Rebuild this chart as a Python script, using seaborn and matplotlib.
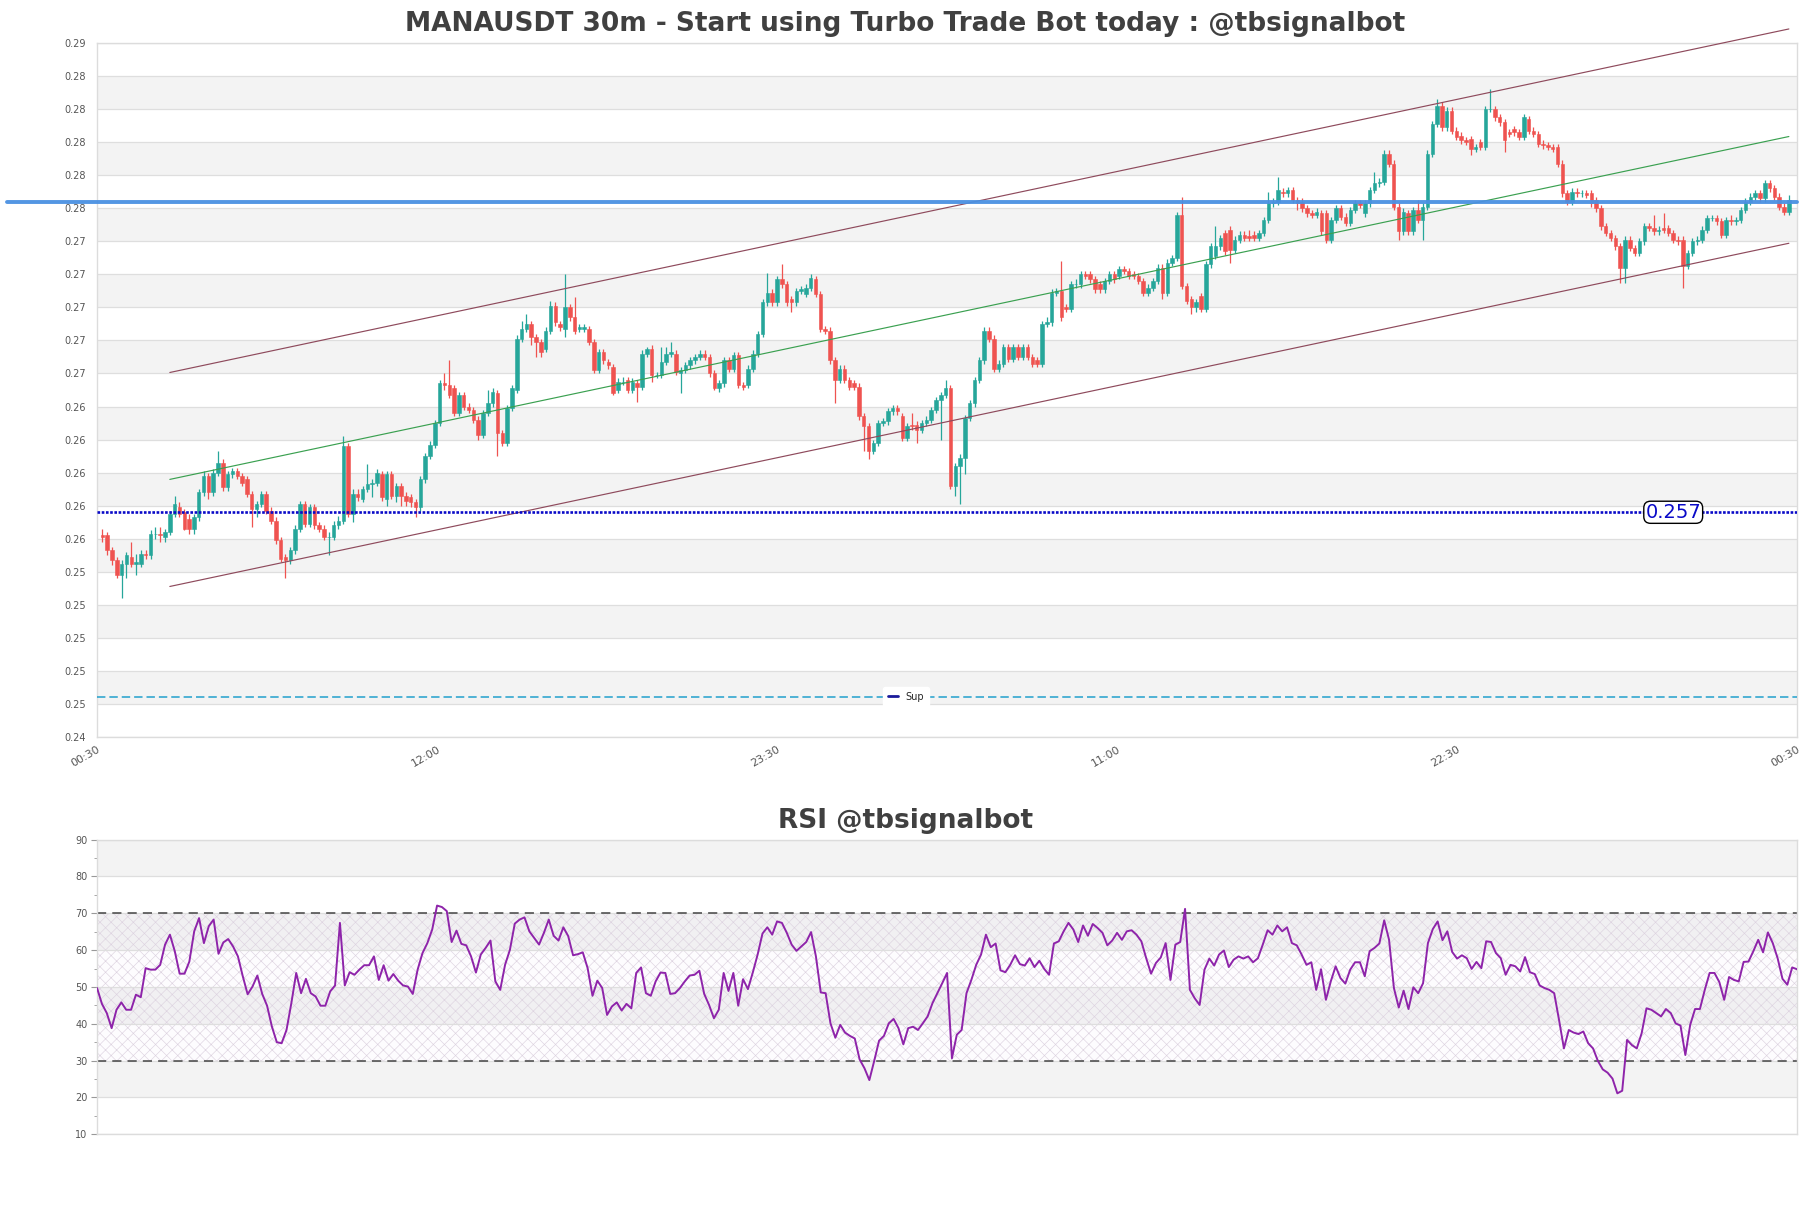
import numpy as np
import pandas as pd
import matplotlib
matplotlib.use("Agg")
import matplotlib.pyplot as plt
from matplotlib.lines import Line2D
from matplotlib.ticker import MultipleLocator, FormatStrFormatter, NullLocator
import seaborn as sns

TITLE = "MANAUSDT 30m - Start using Turbo Trade Bot today : @tbsignalbot"
RSI_TITLE = "RSI @tbsignalbot"
x_labels = ["00:30", "12:00", "23:30", "11:00", "22:30", "00:30"]

# OHLC prices in units of 0.0001
opens = [
2562,2562,2553,2547,2538,2545,2549,2545,2545,2551,
2550,2563,2563,2561,2564,2575,2579,2576,2572,2566,
2573,2588,2598,2588,2600,2606,2591,2599,2601,2598,
2596,2587,2578,2581,2587,2577,2571,2559,2549,2547,
2553,2566,2581,2569,2579,2568,2566,2561,2561,2568,
2571,2616,2575,2587,2584,2590,2593,2594,2599,2584,
2599,2586,2592,2586,2585,2582,2579,2596,2610,2617,
2630,2654,2653,2651,2636,2647,2640,2638,2632,2623,
2636,2642,2648,2624,2618,2639,2650,2681,2687,2690,
2682,2679,2675,2686,2701,2690,2687,2700,2694,2687,
2687,2687,2679,2662,2673,2667,2664,2650,2655,2656,
2650,2654,2652,2672,2675,2659,2659,2667,2672,2672,
2660,2662,2665,2668,2670,2672,2670,2660,2651,2654,
2668,2663,2671,2653,2653,2663,2672,2684,2703,2709,
2703,2717,2714,2705,2703,2710,2708,2712,2717,2708,
2687,2686,2668,2656,2663,2656,2654,2652,2634,2628,
2613,2618,2630,2631,2637,2639,2634,2621,2629,2629,
2626,2630,2632,2638,2644,2647,2651,2592,2604,2609,
2633,2642,2656,2668,2686,2681,2663,2666,2676,2669,
2676,2670,2676,2670,2668,2666,2690,2691,2709,2710,
2700,2699,2714,2714,2720,2720,2717,2714,2711,2716,
2720,2719,2723,2722,2720,2719,2716,2709,2712,2716,
2724,2709,2727,2730,2756,2713,2705,2700,2707,2699,
2726,2731,2737,2745,2747,2735,2741,2744,2743,2744,
2742,2745,2753,2763,2764,2770,2769,2771,2765,2764,
2760,2757,2756,2757,2757,2741,2753,2760,2755,2751,
2759,2763,2757,2763,2771,2775,2776,2793,2787,2761,
2746,2757,2746,2759,2753,2761,2793,2811,2822,2809,
2819,2807,2804,2801,2802,2796,2800,2797,2820,2820,
2815,2812,2806,2808,2806,2803,2814,2807,2805,2799,
2798,2797,2797,2787,2769,2764,2770,2769,2769,2769,
2765,2760,2749,2745,2742,2737,2724,2741,2736,2733,
2740,2749,2748,2746,2748,2748,2745,2741,2741,2725,
2733,2740,2741,2747,2754,2754,2752,2744,2753,2752,
2753,2759,2764,2767,2769,2766,2775,2772,2767,2761,
2758]

highs = [
2566,2564,2555,2549,2547,2552,2558,2551,2553,2553,
2565,2567,2567,2566,2577,2586,2582,2578,2575,2575,
2590,2601,2600,2602,2613,2608,2601,2603,2603,2600,
2598,2589,2583,2589,2589,2579,2573,2561,2551,2555,
2568,2583,2583,2581,2581,2570,2568,2564,2571,2574,
2622,2618,2590,2590,2592,2605,2596,2602,2601,2601,
2601,2594,2594,2588,2587,2584,2598,2612,2619,2632,
2656,2660,2668,2653,2649,2649,2642,2640,2634,2638,
2650,2651,2650,2626,2641,2653,2683,2692,2696,2692,
2684,2681,2688,2704,2703,2692,2720,2702,2706,2690,
2690,2689,2681,2675,2675,2669,2666,2657,2658,2658,
2657,2656,2674,2676,2677,2661,2676,2676,2679,2674,
2664,2667,2670,2672,2674,2674,2672,2662,2656,2670,
2670,2673,2673,2655,2665,2674,2686,2705,2721,2711,
2719,2726,2716,2707,2712,2713,2714,2720,2719,2710,
2689,2688,2670,2665,2665,2658,2656,2654,2636,2630,
2620,2632,2633,2639,2641,2641,2636,2630,2636,2631,
2632,2634,2640,2646,2649,2656,2653,2606,2611,2635,
2644,2658,2670,2688,2688,2683,2668,2678,2678,2678,
2678,2678,2678,2672,2670,2692,2694,2711,2712,2728,
2702,2716,2717,2722,2722,2722,2719,2716,2718,2722,
2722,2725,2725,2724,2722,2721,2718,2714,2718,2726,
2726,2729,2732,2758,2767,2715,2707,2705,2709,2728,
2739,2749,2744,2747,2749,2743,2746,2746,2747,2746,
2747,2755,2770,2766,2779,2772,2773,2773,2767,2766,
2762,2759,2760,2759,2759,2755,2762,2762,2757,2761,
2765,2765,2765,2773,2782,2778,2795,2795,2789,2763,
2760,2759,2761,2765,2763,2795,2813,2826,2824,2821,
2821,2809,2806,2803,2804,2799,2802,2822,2832,2822,
2817,2814,2808,2810,2808,2817,2816,2809,2807,2801,
2800,2799,2799,2789,2771,2772,2772,2771,2771,2771,
2767,2762,2751,2747,2744,2739,2743,2743,2738,2742,
2751,2751,2756,2749,2757,2750,2747,2743,2743,2735,
2742,2743,2749,2756,2756,2756,2754,2755,2756,2755,
2761,2766,2769,2771,2771,2777,2777,2774,2769,2763,
2768]

lows = [
2558,2550,2544,2536,2524,2536,2543,2538,2543,2548,
2548,2560,2558,2558,2562,2573,2573,2565,2563,2563,
2571,2586,2584,2586,2598,2589,2589,2597,2596,2592,
2585,2567,2573,2579,2575,2569,2557,2546,2536,2545,
2551,2564,2567,2567,2566,2564,2559,2550,2559,2566,
2569,2573,2570,2583,2582,2588,2585,2592,2583,2580,
2584,2582,2580,2580,2579,2573,2577,2594,2608,2615,
2628,2650,2645,2634,2634,2638,2636,2630,2620,2621,
2634,2640,2610,2616,2616,2637,2648,2679,2685,2677,
2670,2670,2673,2684,2689,2686,2682,2692,2684,2685,
2685,2677,2660,2660,2666,2663,2647,2648,2653,2648,
2648,2643,2650,2670,2655,2657,2657,2665,2670,2659,
2648,2660,2663,2666,2668,2668,2658,2650,2649,2652,
2661,2661,2651,2650,2651,2661,2670,2682,2701,2701,
2701,2712,2701,2697,2701,2708,2706,2710,2706,2685,
2684,2666,2642,2654,2654,2650,2650,2632,2613,2608,
2611,2616,2628,2629,2635,2635,2619,2619,2626,2618,
2624,2628,2630,2636,2620,2645,2590,2586,2581,2599,
2631,2640,2654,2666,2679,2661,2661,2664,2667,2667,
2668,2668,2668,2664,2664,2664,2688,2689,2707,2692,
2697,2697,2712,2712,2717,2715,2709,2709,2709,2714,
2715,2717,2720,2717,2717,2714,2707,2707,2710,2714,
2705,2707,2725,2728,2711,2702,2696,2697,2697,2697,
2724,2729,2735,2732,2727,2733,2739,2740,2740,2740,
2740,2743,2751,2761,2762,2767,2767,2763,2759,2758,
2755,2754,2754,2744,2739,2739,2751,2753,2749,2749,
2757,2760,2755,2761,2769,2773,2774,2785,2759,2741,
2744,2744,2744,2751,2741,2759,2791,2809,2807,2807,
2805,2801,2799,2798,2792,2794,2795,2795,2818,2813,
2810,2794,2803,2804,2801,2801,2805,2803,2797,2796,
2795,2794,2785,2767,2762,2762,2767,2767,2766,2761,
2758,2747,2743,2740,2735,2715,2715,2734,2731,2731,
2738,2746,2744,2744,2745,2743,2739,2738,2712,2723,
2731,2738,2739,2745,2752,2750,2742,2742,2750,2750,
2751,2757,2762,2765,2764,2764,2770,2765,2759,2756,
2756]

closes = [
2561,2553,2547,2538,2545,2550,2545,2546,2551,2550,
2563,2563,2562,2564,2575,2581,2575,2566,2566,2573,
2588,2598,2588,2600,2606,2591,2599,2601,2598,2594,
2587,2578,2581,2587,2577,2571,2559,2548,2547,2553,
2566,2581,2569,2579,2568,2566,2561,2561,2568,2571,
2616,2575,2587,2585,2590,2593,2594,2600,2585,2599,
2586,2592,2586,2583,2582,2579,2596,2610,2617,2630,
2654,2653,2647,2636,2647,2640,2638,2632,2623,2636,
2642,2649,2624,2618,2639,2651,2681,2687,2690,2682,
2679,2673,2686,2701,2691,2688,2700,2694,2686,2688,
2688,2679,2662,2673,2668,2665,2648,2655,2655,2650,
2655,2652,2672,2675,2659,2659,2667,2672,2673,2661,
2662,2665,2668,2670,2672,2670,2660,2651,2654,2668,
2663,2671,2653,2652,2663,2672,2684,2703,2709,2703,
2717,2714,2703,2703,2710,2711,2712,2718,2708,2687,
2686,2668,2656,2663,2656,2652,2652,2634,2628,2613,
2618,2630,2631,2637,2639,2637,2621,2628,2628,2626,
2630,2632,2638,2644,2647,2651,2592,2604,2609,2633,
2642,2656,2668,2686,2681,2663,2666,2676,2669,2676,
2670,2676,2670,2666,2666,2690,2691,2709,2710,2694,
2699,2714,2714,2720,2719,2717,2711,2711,2716,2720,
2717,2723,2722,2719,2719,2716,2709,2712,2716,2724,
2709,2727,2730,2756,2713,2704,2700,2703,2699,2726,
2737,2737,2742,2734,2735,2741,2744,2742,2742,2742,
2745,2753,2763,2764,2771,2769,2771,2765,2763,2760,
2757,2756,2758,2746,2741,2753,2760,2755,2751,2759,
2763,2762,2763,2771,2775,2776,2793,2787,2761,2746,
2758,2746,2759,2753,2761,2793,2811,2822,2809,2819,
2807,2803,2801,2800,2796,2797,2797,2820,2820,2815,
2812,2801,2805,2806,2803,2815,2807,2805,2799,2798,
2797,2796,2787,2769,2764,2770,2769,2769,2768,2763,
2760,2749,2745,2742,2737,2724,2741,2736,2733,2740,
2749,2748,2746,2747,2747,2745,2741,2740,2725,2733,
2740,2741,2747,2754,2754,2752,2744,2753,2752,2753,
2759,2764,2767,2769,2766,2775,2772,2767,2761,2758,
2765]

rsi = [
49.7,45.4,42.9,38.8,43.8,45.8,43.8,43.8,47.9,47.2,
55.1,54.7,54.7,56.0,61.5,64.2,59.7,53.6,53.6,56.9,
65.1,68.7,61.9,66.5,68.3,59.0,62.1,63.0,61.0,58.3,
52.9,48.0,50.1,53.1,48.1,44.9,39.2,35.0,34.7,38.3,
45.6,53.8,48.3,52.2,48.3,47.4,44.9,44.9,48.8,50.4,
67.4,50.4,54.0,53.3,54.7,55.9,55.9,58.3,51.9,55.9,
51.7,53.5,51.7,50.4,50.1,48.1,54.7,59.2,61.9,65.6,
72.1,71.7,70.6,62.2,65.3,61.7,61.3,58.3,53.9,58.8,
60.6,62.6,51.5,49.2,56.0,60.1,67.2,68.3,68.9,65.1,
63.3,61.5,64.7,68.3,63.9,62.6,66.2,63.8,58.6,58.9,
59.4,55.1,47.6,51.7,49.7,
42.4,44.7,45.8,43.6,45.4,44.2,53.8,55.3,48.3,47.6,
51.5,53.9,53.8,48.1,48.3,49.7,51.5,53.1,53.3,54.4,
48.1,45.1,41.5,43.8,53.8,48.9,53.8,44.9,52.1,49.4,
53.9,58.8,64.5,66.2,64.2,67.8,67.4,64.7,61.5,59.8,
61.0,62.2,64.9,58.3,48.5,48.3,40.1,36.2,39.7,37.6,
36.7,36.0,30.3,27.9,24.7,29.9,35.4,36.7,40.1,41.3,
38.8,34.4,38.8,39.2,38.3,40.1,42.0,45.6,48.3,51.0,
53.8,30.6,37.0,38.3,48.3,51.9,56.0,58.8,64.2,60.8,
61.8,54.5,54.0,56.0,58.6,56.2,55.8,57.8,55.4,57.1,
54.9,53.3,61.8,62.4,65.1,67.4,65.6,62.2,66.7,63.9,
67.1,66.0,64.7,61.3,62.6,64.7,62.8,65.1,65.4,64.2,
62.4,57.8,53.6,56.5,58.0,61.9,51.9,61.5,62.2,71.2,
49.2,46.9,
45.1,54.7,57.7,55.8,58.8,59.9,55.4,57.4,58.3,57.7,
58.3,56.7,57.8,61.5,65.4,64.2,66.7,65.1,66.2,61.9,
61.3,58.8,56.0,56.7,49.2,54.8,46.5,51.5,55.6,52.4,
50.9,54.7,56.7,56.7,52.9,59.7,60.6,61.8,68.1,62.8,
49.7,44.4,49.0,44.0,49.9,48.3,51.0,61.9,65.7,67.8,
62.7,65.1,59.5,57.7,58.6,57.8,54.9,56.8,55.1,62.4,
62.2,59.2,57.8,53.3,56.0,55.6,54.2,58.1,54.0,53.5,
50.4,49.7,49.2,48.3,41.0,33.3,38.3,37.6,37.2,37.9,
34.7,33.3,29.9,27.6,26.7,25.1,21.1,21.8,35.6,34.2,
33.3,37.4,44.2,43.8,42.9,42.0,44.0,42.9,40.1,39.5,
31.5,39.7,44.0,44.0,49.2,53.8,53.8,51.3,46.5,52.7,
51.9,51.5,56.8,56.9,59.7,62.8,59.4,64.8,61.9,57.8,
52.2,50.6,55.3,54.8]

channel_x = [14, 350]
channel_upper = [0.26606, 0.28685]
channel_mid = [0.25959, 0.28034]
channel_lower = [0.25311, 0.27388]
resistance = 0.27637
support = 0.2576
support_label = "0.257"
support2 = 0.24645
legend_label = "Sup"
rsi_levels = [30, 70]

# ------------------------------------------------------------------
sns.set_theme(style="white")
plt.rcParams["font.family"] = ["DejaVu Sans"]
plt.rcParams["hatch.linewidth"] = 0.45

df = pd.DataFrame({
    "open": np.array(opens) / 10000.0,
    "high": np.array(highs) / 10000.0,
    "low": np.array(lows) / 10000.0,
    "close": np.array(closes) / 10000.0,
})
df["idx"] = np.arange(len(df))
n = len(df)
rsi_df = pd.DataFrame({"idx": np.arange(len(rsi)), "rsi": rsi})

fig = plt.figure(figsize=(18.11, 12.08), dpi=100)
ax = fig.add_axes([0.0536, 0.3899, 0.9387, 0.5745])
ax2 = fig.add_axes([0.0536, 0.0611, 0.9387, 0.2438])

spine_c = "#dcdcdc"
label_c = "#555555"
band_c = "#f3f3f3"

# ---------------- main price axes ----------------
ymin, ymax = 0.244, 0.286
ax.set_ylim(ymin, ymax)
ax.set_xlim(-1.1, n + 0.7)
ticks_y = np.linspace(ymin, ymax, 22)
for k in range(len(ticks_y) - 1):
    if k % 2 == 1:
        ax.axhspan(ticks_y[k], ticks_y[k + 1], color=band_c, lw=0, zorder=0)
ax.yaxis.set_major_locator(MultipleLocator(0.002))
ax.yaxis.set_major_formatter(FormatStrFormatter("%.2f"))
ax.grid(axis="y", color="#dedede", lw=0.9, zorder=0.5)
ax.grid(axis="x", visible=False)
ax.set_axisbelow(True)

up = df["close"] >= df["open"]
colors = np.where(up, "#26a69a", "#ef5350")
ax.vlines(df["idx"], df["low"], df["high"], colors=colors, lw=0.9, zorder=3)
body_bottom = np.minimum(df["open"], df["close"])
body_h = (df["close"] - df["open"]).abs()
ax.bar(df["idx"], body_h, bottom=body_bottom, width=0.72, color=colors,
       edgecolor=colors, linewidth=0.4, zorder=3.5)

# channel
ax.plot(channel_x, channel_upper, color="#8e4a5c", lw=0.85, zorder=4, clip_on=False)
ax.plot(channel_x, channel_mid, color="#3aa050", lw=0.85, zorder=4, clip_on=False)
ax.plot(channel_x, channel_lower, color="#8e4a5c", lw=0.85, zorder=4, clip_on=False)

# horizontal levels
ax.axhline(resistance, xmin=-0.053, xmax=1.0, color="#4a90e2", lw=2.8,
           alpha=0.95, zorder=5, clip_on=False)
ax.axhline(support, color="#0a0ac8", lw=1.9, linestyle=(0, (1, 0.6)), zorder=4)
ax.axhline(support2, color="#22a0cc", lw=1.1, linestyle=(0, (5.5, 2.6)), zorder=4)
ax.text(326, support, support_label, ha="center", va="center", color="#0a0ac8",
        fontsize=14, zorder=6,
        bbox=dict(boxstyle="round,pad=0.08,rounding_size=0.35", fc="white",
                  ec="black", lw=1.0))

handle = Line2D([0], [0], color="#1a1a9a", lw=2)
leg = ax.legend(handles=[handle], labels=[legend_label], loc="center",
                bbox_to_anchor=(0.476, 0.058), fontsize=7, frameon=True,
                framealpha=1.0, edgecolor="white", facecolor="white",
                handlelength=1.0, handletextpad=0.8, borderpad=0.5)
leg.set_zorder(7)

xt = np.linspace(ax.get_xlim()[0], ax.get_xlim()[1], len(x_labels))
ax.set_xticks(xt)
ax.set_xticklabels(x_labels, rotation=30, ha="right", fontsize=8,
                   color=label_c, rotation_mode="anchor")
ax.tick_params(axis="x", length=0, pad=5)
ax.tick_params(axis="y", length=0, pad=8, labelsize=7, labelcolor=label_c)
for s in ax.spines.values():
    s.set_color(spine_c)
    s.set_linewidth(1.0)
ax.set_xlabel("")
ax.set_ylabel("")

# ---------------- RSI axes ----------------
ax2.set_ylim(10, 90)
ax2.set_xlim(0, len(rsi) - 1)
rt = np.arange(10, 91, 10)
for k in range(len(rt) - 1):
    if k % 2 == 1:
        ax2.axhspan(rt[k], rt[k + 1], color=band_c, lw=0, zorder=0)
ax2.axhspan(rsi_levels[0], rsi_levels[1], facecolor="#9c27b0", alpha=0.012,
            lw=0, zorder=0.2)
ax2.axhspan(rsi_levels[0], rsi_levels[1], facecolor="none", hatch="xxx",
            edgecolor="#ddd3e0", lw=0, zorder=0.3)
ax2.yaxis.set_major_locator(MultipleLocator(10))
ax2.yaxis.set_minor_locator(MultipleLocator(5))
ax2.grid(axis="y", which="major", color="#dedede", lw=0.9, zorder=0.5)
ax2.grid(axis="x", visible=False)
for lv in rsi_levels:
    ax2.axhline(lv, color="#444444", lw=1.1, linestyle=(0, (6, 4)), zorder=2)
sns.lineplot(data=rsi_df, x="idx", y="rsi", ax=ax2, color="#8e24aa",
             lw=1.4, zorder=3)
ax2.xaxis.set_major_locator(NullLocator())
ax2.tick_params(axis="y", which="major", length=4, width=0.8, color="#999999",
                pad=3, labelsize=7, labelcolor=label_c, left=True)
ax2.tick_params(axis="y", which="minor", length=2, width=0.6, color="#999999",
                left=True)
for s in ax2.spines.values():
    s.set_color(spine_c)
    s.set_linewidth(1.0)
ax2.set_xlabel("")
ax2.set_ylabel("")

fig.text(0.5, 1 - 24 / 1208, TITLE, ha="center", va="center", fontsize=19,
         fontweight="bold", color="#404040")
fig.text(0.5, 1 - 821 / 1208, RSI_TITLE, ha="center", va="center", fontsize=19,
         fontweight="bold", color="#404040")

fig.savefig("out.png", dpi=100, facecolor="white")
